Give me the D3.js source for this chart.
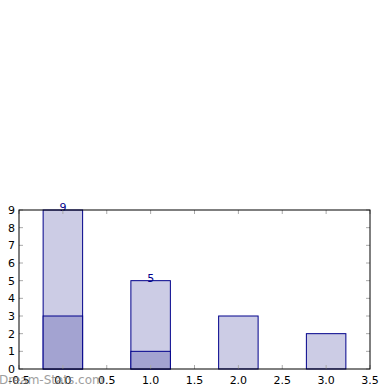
<html>
<body style="margin:0">
<svg id="plot"></svg>
<script src="https://d3js.org/d3.v7.min.js"></script>
<script>
var categories = [0, 1, 2, 3];
var totals = [9, 5, 3, 2];
var parts = [3, 1, 0, 0];
var labelled = ["9", "5", "", ""];
var xTicks = [-0.5, 0.0, 0.5, 1.0, 1.5, 2.0, 2.5, 3.0, 3.5];
var yTicks = [0, 1, 2, 3, 4, 5, 6, 7, 8, 9];

var screen = {width:390, height:390};
var margins = {top:210, bottom:21, left:19, right:20};
var graph = {
    width:screen.width-margins.left-margins.right,
    height:screen.height-margins.top-margins.bottom
};
var barW = 0.45;

var svg = d3.select("#plot")
    .attr("width",screen.width)
    .attr("height",screen.height)
    .style("font-family","DejaVu Sans")
    .style("background","white");

var xScale = d3.scaleLinear().domain([-0.5,3.5]).range([0,graph.width]);
var yScale = d3.scaleLinear().domain([0,9]).range([graph.height,0]);

var g = svg.append("g")
    .attr("transform","translate("+margins.left+","+margins.top+")");

// background bars (totals)
g.selectAll(".tot")
    .data(categories)
    .enter()
    .append("rect")
    .attr("x",function(d){return xScale(d-barW/2);})
    .attr("y",function(d,i){return yScale(totals[i]);})
    .attr("width",xScale(barW)-xScale(0))
    .attr("height",function(d,i){return yScale(0)-yScale(totals[i]);})
    .attr("fill","#ccccE5")
    .attr("stroke","#00008b")
    .attr("stroke-width",1);

// front bars
g.selectAll(".part")
    .data(categories.filter(function(d,i){return parts[i]>0;}))
    .enter()
    .append("rect")
    .attr("x",function(d){return xScale(d-barW/2);})
    .attr("y",function(d){return yScale(parts[d]);})
    .attr("width",xScale(barW)-xScale(0))
    .attr("height",function(d){return yScale(0)-yScale(parts[d]);})
    .attr("fill","#a3a3d1")
    .attr("stroke","#00008b")
    .attr("stroke-width",1);

// value labels
g.selectAll(".lbl")
    .data(categories.filter(function(d,i){return labelled[i]!="";}))
    .enter()
    .append("text")
    .attr("x",function(d){return xScale(d);})
    .attr("y",function(d){return yScale(totals[d])+1;})
    .attr("text-anchor","middle")
    .attr("font-size",11)
    .attr("fill","#00008b")
    .text(function(d){return labelled[d];});

// ticks inside
var tickCol = "#aaaaaa";
xTicks.forEach(function(t){
    g.append("line").attr("x1",xScale(t)).attr("x2",xScale(t))
        .attr("y1",graph.height).attr("y2",graph.height-4).attr("stroke",tickCol);
    g.append("line").attr("x1",xScale(t)).attr("x2",xScale(t))
        .attr("y1",0).attr("y2",4).attr("stroke",tickCol);
    g.append("text").attr("x",xScale(t)).attr("y",graph.height+15)
        .attr("text-anchor","middle").attr("font-size",11).attr("fill","black")
        .text(t.toFixed(1));
});
yTicks.forEach(function(t){
    g.append("line").attr("x1",0).attr("x2",4)
        .attr("y1",yScale(t)).attr("y2",yScale(t)).attr("stroke",tickCol);
    g.append("line").attr("x1",graph.width).attr("x2",graph.width-4)
        .attr("y1",yScale(t)).attr("y2",yScale(t)).attr("stroke",tickCol);
    g.append("text").attr("x",-4).attr("y",yScale(t)+4)
        .attr("text-anchor","end").attr("font-size",11).attr("fill","black")
        .text(t);
});

// frame
g.append("rect")
    .attr("x",0).attr("y",0)
    .attr("width",graph.width).attr("height",graph.height)
    .attr("fill","none").attr("stroke","black").attr("stroke-width",1);

// watermark
svg.append("text")
    .attr("x",-1).attr("y",384)
    .attr("font-size",12)
    .attr("fill","#888888")
    .attr("opacity",0.8)
    .text("Dream-Stats.com");
</script>
</body>
</html>
